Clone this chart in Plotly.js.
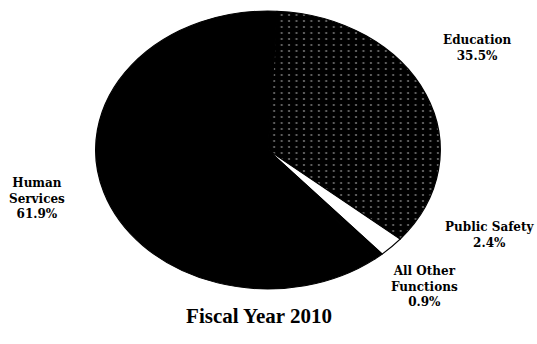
<!DOCTYPE html>
<html>
<head>
<meta charset="utf-8">
<script src="https://cdn.plot.ly/plotly-3.0.1.min.js"></script>
<style>
html,body{margin:0;padding:0;background:#fff;}
#chart{width:537px;height:344px;}
</style>
</head>
<body>
<div id="chart"></div>
<script>
var categories = ["Education", "Public Safety", "All Other Functions", "Human Services"];
var shares = [35.5, 2.4, 0.9, 61.9];
var labelTexts = ["Education<br>35.5%", "Public Safety<br>2.4%", "All Other<br>Functions<br>0.9%", "Human<br>Services<br>61.9%"];
var sliceColors = ["#050505", "#ffffff", "#000000", "#000000"];

var serif = "Liberation Serif";
var labelSerif = "DejaVu Serif";

var trace = {
  type: "pie",
  labels: categories,
  values: shares,
  sort: false,
  direction: "clockwise",
  rotation: 3,
  textinfo: "none",
  hoverinfo: "none",
  showlegend: false,
  marker: {
    colors: sliceColors,
    line: {width: 1, color: ["#000", "#000", "#000", "#000"]},
    pattern: {
      shape: [".", "", "", ""],
      fgcolor: ["#6a6a6a", "#fff", "#000", "#000"],
      bgcolor: ["#000", "#fff", "#000", "#000"],
      size: 6,
      solidity: 0.08
    }
  },
  domain: {x: [0.240, 0.758], y: [0.160, 0.968]}
};

var annos = [
  {text: "<b>" + labelTexts[0] + "</b>", x: 477, y: 48},
  {text: "<b>" + labelTexts[1] + "</b>", x: 490, y: 235},
  {text: "<b>" + labelTexts[2] + "</b>", x: 424, y: 286},
  {text: "<b>" + labelTexts[3] + "</b>", x: 37, y: 198}
].map(function(a){
  return {text: a.text, x: a.x / 537, y: 1 - a.y / 344, xref: "paper", yref: "paper",
          xanchor: "center", yanchor: "middle", showarrow: false, align: "center",
          font: {family: labelSerif, size: 12, color: "#000"}};
});

var layout = {
  width: 537, height: 344,
  margin: {l: 0, r: 0, t: 0, b: 0},
  paper_bgcolor: "#fff",
  font: {family: serif, size: 14, color: "#000"},
  showlegend: false,
  title: {
    text: "<b>Fiscal Year 2010</b>",
    font: {family: serif, size: 21, color: "#000"},
    x: 259 / 537, xanchor: "center",
    y: 1 - 316 / 344, yanchor: "middle", yref: "paper"
  },
  annotations: annos
};

Plotly.newPlot("chart", [trace], layout, {staticPlot: true}).then(function(gd){
  var cx = (0.240 + 0.758) / 2 * 537;
  var g = gd.querySelector(".pielayer .trace");
  if (g) g.setAttribute("transform", "translate(" + cx + ",0) scale(1.24,1) translate(" + (-cx) + ",0)");
});
</script>
</body>
</html>
